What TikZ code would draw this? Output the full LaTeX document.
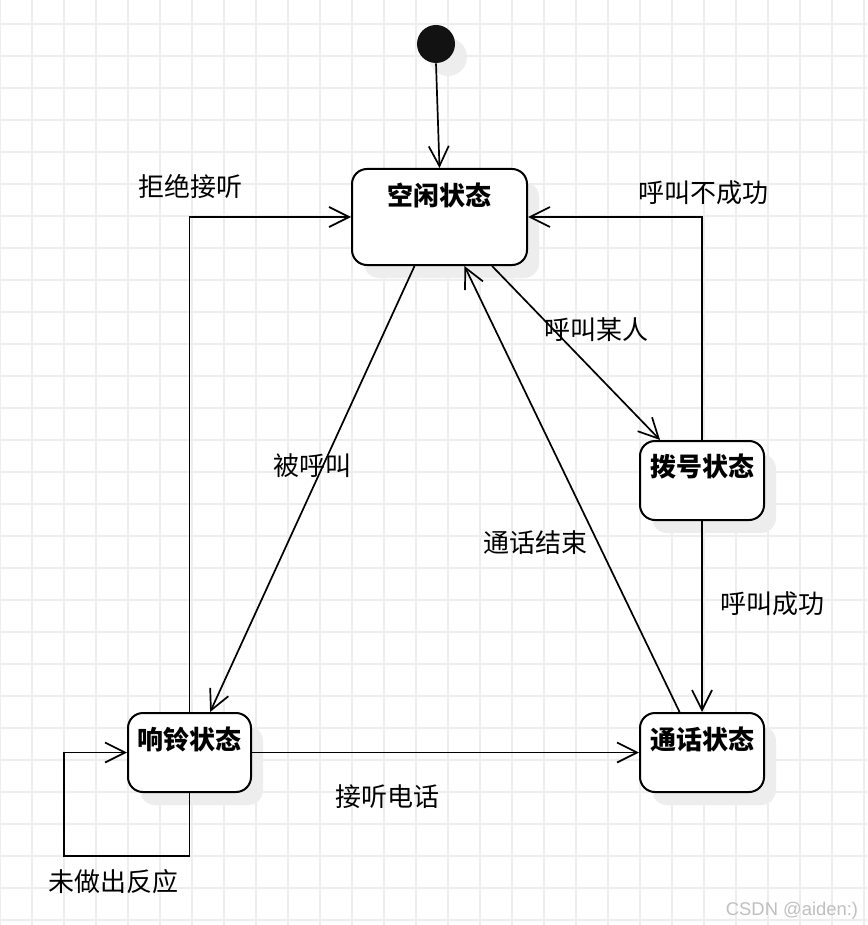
\documentclass[tikz,border=0pt]{standalone}
\usepackage{fontspec}
\setmainfont{Noto Sans CJK SC}
\newfontfamily\markfont{Liberation Sans}
\usetikzlibrary{arrows.meta,shadows}

\tikzset{
  gridline/.style={draw=black!7, line width=0.6pt},
  shade box/.style={drop shadow={shadow xshift=6pt, shadow yshift=-6.5pt, fill=black!7, opacity=1}},
  state/.style={draw, line width=1pt, rounded corners=7.5pt, fill=white, shade box,
    label={[anchor=center, yshift=-13.5pt, font=\fontsize{13}{15}\selectfont\bfseries]north:#1}},
  initial/.style={circle, fill=black!93, minimum size=19pt, inner sep=0pt, shade box},
  trans/.style={line width=0.85pt, -{Straight Barb[length=10pt,width=10pt]}},
  tlabel/.style={inner sep=1pt}
}

\begin{document}
\begin{tikzpicture}[x=0.5pt, y=-0.5pt, font=\fontsize{13}{15}\selectfont]
            \useasboundingbox[fill=white] (0,0) rectangle (867,925);
            \foreach \x in {0,32,...,864}
            {
                \draw[gridline] (\x,0) -- (\x,925);
            }
            \foreach \y in {24,56,...,920}
            {
                \draw[gridline] (0,\y) -- (867,\y);
            }

            \node[initial] (start) at (436,44) {};
            \node[state=空闲状态, minimum width=87.5pt, minimum height=48pt] (idle) at (439.5,217) {};
            \node[state=拨号状态, minimum width=62pt, minimum height=39.5pt] (dial) at (702,480.5) {};
            \node[state=响铃状态, minimum width=61.5pt, minimum height=39.5pt] (ring) at (189.5,752.5) {};
            \node[state=通话状态, minimum width=62pt, minimum height=39.5pt] (talk) at (702,752.5) {};
            \coordinate (loop) at (64,856);

            \draw[trans] (start.south) -- (idle.north);
            \draw[trans] (ring.north) |- (idle.west);
            \draw[trans] (dial.north) |- (idle.east);
            \draw[trans] (idle.-43.5) -- (dial.136.8);
            \draw[trans] (idle.-117) -- (ring.63.7);
            \draw[trans] (talk.119) -- (idle.-63);
            \draw[trans] (dial.south) -- (talk.north);
            \draw[trans] (ring.east) -- (talk.west);
            \draw[trans] (ring.south) |- (loop) |- (ring.west);

            \node[tlabel] (refuse) at (190,187) {拒绝接听};
            \node[tlabel] (fail) at (703,193) {呼叫不成功};
            \node[tlabel] (call) at (596,330) {呼叫某人};
            \node[tlabel] (called) at (312,466) {被呼叫};
            \node[tlabel] (hangup) at (535,543) {通话结束};
            \node[tlabel] (success) at (772,604) {呼叫成功};
            \node[tlabel] (answer) at (387,797) {接听电话};
            \node[tlabel] (noreply) at (113,882) {未做出反应};
            \node[text=black!25, font=\markfont\fontsize{9.2}{11}\selectfont] (mark) at (792,911) {CSDN @aiden:)};
        \end{tikzpicture}
\end{document}
